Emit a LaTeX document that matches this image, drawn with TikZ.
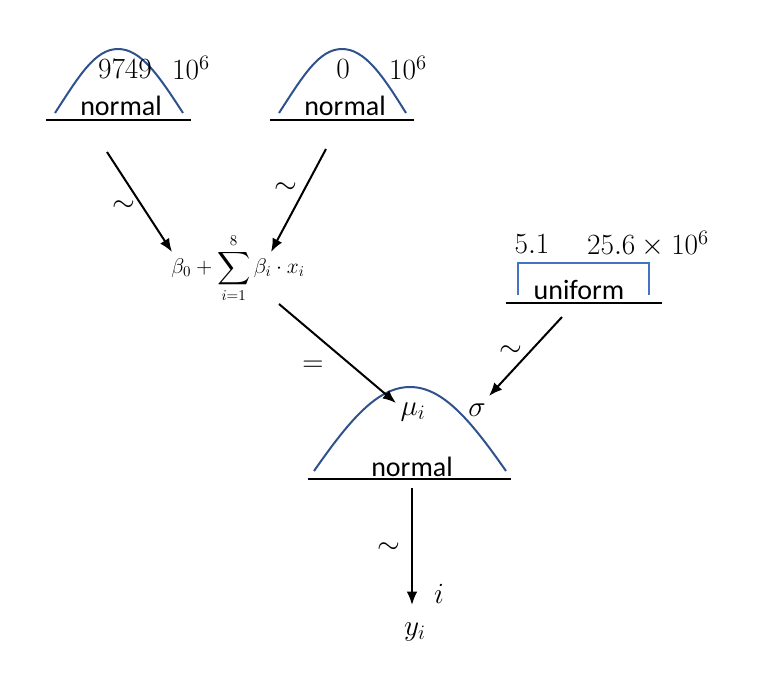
\documentclass[tikz,border=0pt]{standalone}
\usepackage{fix-cm}
\usepackage{amsmath}
\usepackage{fontspec}
\setsansfont{Carlito}
\usetikzlibrary{arrows.meta}
\definecolor{bellblue}{RGB}{47,82,143}
\definecolor{boxblue}{RGB}{68,114,196}
\tikzset{every picture/.style={line width=0.75pt}}
\tikzset{
  dist/.style={font=\sffamily\fontsize{21}{25}\selectfont, inner sep=0.75pt},
  lbl/.style={font=\fontsize{22}{26}\selectfont, inner sep=0.75pt},
  bell/.style={draw=bellblue, line width=1.5},
  base/.style={line width=1.5},
  arr/.style={-{Latex[length=10pt,width=8pt]}, line width=1.5}
}

\begin{document}
\begin{tikzpicture}[x=0.75pt,y=0.75pt,yscale=-1,xscale=1]
	\useasboundingbox (0,0) rectangle (766,673);

	%Shape: Bell left
	\draw [bell] (55,113) .. controls (79,76) and (95,49) .. (118,49) .. controls (141,49) and (159,76) .. (183,113) ;
	%Straight Lines
	\draw [base] (46,120) -- (191,120) ;
	%Shape: Bell middle
	\draw [bell] (279,113) .. controls (303,76) and (319,49) .. (342,49) .. controls (365,49) and (383,76) .. (406,113) ;
	%Straight Lines
	\draw [base] (270,120) -- (414,120) ;
	%Shape: Bracket uniform
	\draw [draw=boxblue, line width=1.5] (518,295) -- (518,263) -- (649,263) -- (649,295) ;
	%Straight Lines
	\draw [base] (506,303) -- (662,303) ;
	%Shape: Bell bottom
	\draw [bell] (314,471) .. controls (349,421) and (377,387) .. (410,387) .. controls (443,387) and (471,421) .. (506,471) ;
	%Straight Lines
	\draw [base] (308,479) -- (511,479) ;

	% Text Node
	\draw (121,106) node [dist] (normA) {normal};
	% Text Node
	\draw (125,69) node [lbl] (meanA) {$9749$};
	% Text Node
	\draw (191,68) node [lbl] (sdA) {$10^{6}$};
	% Text Node
	\draw (345,106) node [dist] (normB) {normal};
	% Text Node
	\draw (343,69) node [lbl] (meanB) {$0$};
	% Text Node
	\draw (408,68) node [lbl] (sdB) {$10^{6}$};
	% Text Node
	\draw (238,268) node [font=\fontsize{16}{19}\selectfont, inner sep=0.75pt] (linpred) {$\displaystyle\beta_{0} +\sum_{i=1}^{8}\beta_{i}\cdot x_{i}$};
	% Text Node
	\draw (532,244) node [lbl] (lowU) {$5.1$};
	% Text Node
	\draw (648,244) node [lbl] (upU) {$25.6\times 10^{6}$};
	% Text Node
	\draw (579,290) node [dist] (unif) {uniform};
	% Text Node
	\draw (412,467) node [dist] (normC) {normal};
	% Text Node
	\draw (413,412) node [lbl] (mu) {$\mu_{i}$};
	% Text Node
	\draw (477,410) node [lbl] (sigma) {$\sigma$};
	% Text Node
	\draw (439,594) node [lbl] (idx) {$i$};
	% Text Node
	\draw (415,632) node [lbl] (y) {$y_{i}$};

	% Text Node
	\draw (124,206) node [lbl] (tildeA) {$\sim$};
	% Text Node
	\draw (286,188) node [lbl] (tildeB) {$\sim$};
	% Text Node
	\draw (511,351) node [lbl] (tildeU) {$\sim$};
	% Text Node
	\draw (313,366) node [lbl] (eq) {$=$};
	% Text Node
	\draw (389,548) node [lbl] (tildeY) {$\sim$};

	%Arrow ends
	\coordinate (fromA) at (107,152);
	\coordinate (toB0) at (172,252);
	\coordinate (fromB) at (326,149);
	\coordinate (toBi) at (271,252);
	\coordinate (fromLin) at (279,304);
	\coordinate (toMu) at (396,403);
	\coordinate (fromU) at (562,317);
	\coordinate (toSigma) at (489,396);
	\coordinate (fromC) at (412,488);
	\coordinate (toY) at (412,605);

	%Straight Lines
	\draw [arr] (fromA) -- (toB0) ;
	%Straight Lines
	\draw [arr] (fromB) -- (toBi) ;
	%Straight Lines
	\draw [arr] (fromLin) -- (toMu) ;
	%Straight Lines
	\draw [arr] (fromU) -- (toSigma) ;
	%Straight Lines
	\draw [arr] (fromC) -- (toY) ;

\end{tikzpicture}
\end{document}
